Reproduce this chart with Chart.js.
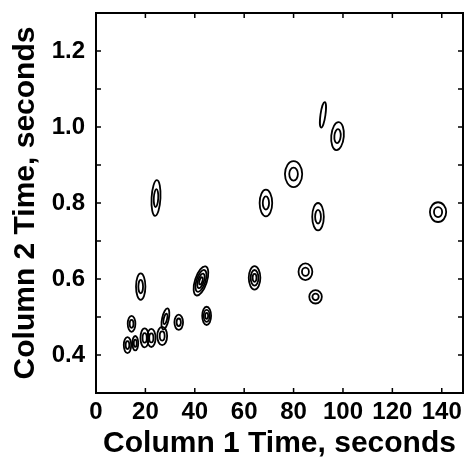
<!DOCTYPE html>
<html>
<head>
<meta charset="utf-8">
<script src="https://cdn.jsdelivr.net/npm/chart.js@4.4.1/dist/chart.umd.min.js"></script>
<style>
  body { margin: 0; background: #fff; }
</style>
</head>
<body>
<canvas id="contour" width="470" height="460"></canvas>
<script>
// peak centres, half widths (in axis units) and number of contour levels
var peakX     = [24.3, 91.9, 97.8, 80.0, 68.8, 89.9, 138.5, 64.2, 84.8, 88.9, 18.1, 42.5, 44.8, 14.4, 12.75, 15.9, 19.7, 22.4, 26.8, 28.1, 33.5];
var peakY     = [0.813, 1.032, 0.976, 0.876, 0.800, 0.764, 0.776, 0.603, 0.619, 0.553, 0.580, 0.595, 0.503, 0.482, 0.426, 0.431, 0.445, 0.445, 0.450, 0.495, 0.486];
var peakHalfW = [1.8, 1.0, 2.55, 3.5, 2.55, 2.35, 3.3, 2.35, 2.8, 2.55, 1.9, 2.4, 1.8, 1.55, 1.5, 1.2, 1.7, 1.7, 2.0, 1.35, 1.75];
var peakHalfH = [0.047, 0.034, 0.037, 0.034, 0.035, 0.036, 0.026, 0.031, 0.022, 0.0175, 0.035, 0.040, 0.024, 0.021, 0.021, 0.019, 0.025, 0.024, 0.024, 0.028, 0.020];
var peakLevels = [2, 1, 2, 2, 2, 2, 2, 3, 2, 2, 2, 4, 3, 2, 2, 2, 2, 2, 2, 2, 2];
var peakTilt  = [3, 8, 5, 0, 0, 0, 0, 0, 0, 0, 0, 18, 0, 0, 0, 0, 0, 0, 0, 12, 0];

var xTitle = "Column 1 Time, seconds";
var yTitle = "Column 2 Time, seconds";

var points = [];
for (var i = 0; i < peakX.length; i++) {
    points.push({ x: peakX[i], y: peakY[i] });
}

var tickFont = { family: "'Liberation Sans', Arial, sans-serif", size: 24, weight: 'bold' };
var titleFont = { family: "'Liberation Sans', Arial, sans-serif", size: 30, weight: 'bold', lineHeight: 1 };

// box, inward ticks and contour rings
var contourPlugin = {
    id: 'contours',
    afterDatasetsDraw: function (chart) {
        var ctx = chart.ctx;
        var xs = chart.scales.x;
        var ys = chart.scales.y;
        var area = chart.chartArea;

        ctx.save();
        ctx.beginPath();
        ctx.rect(area.left, area.top, area.right - area.left, area.bottom - area.top);
        ctx.clip();
        ctx.strokeStyle = '#000';
        ctx.lineWidth = 1.8;
        for (var i = 0; i < peakX.length; i++) {
            var px = xs.getPixelForValue(peakX[i]);
            var py = ys.getPixelForValue(peakY[i]);
            var rx = Math.abs(xs.getPixelForValue(peakX[i] + peakHalfW[i]) - px);
            var ry = Math.abs(ys.getPixelForValue(peakY[i] + peakHalfH[i]) - py);
            var n = peakLevels[i];
            for (var k = 0; k < n; k++) {
                var s = (n - k) / n;
                ctx.beginPath();
                ctx.ellipse(px, py, Math.max(rx * s, 0.8), Math.max(ry * s, 0.8), peakTilt[i] * Math.PI / 180, 0, 2 * Math.PI);
                ctx.stroke();
            }
        }
        ctx.restore();

        ctx.save();
        ctx.strokeStyle = '#000';
        ctx.lineWidth = 2;
        ctx.strokeRect(area.left, area.top, area.right - area.left, area.bottom - area.top);
        ctx.lineWidth = 1.5;
        var len = 5;
        xs.ticks.forEach(function (t) {
            var p = xs.getPixelForValue(t.value);
            if (p <= area.left + 1 || p >= area.right - 1) return;
            ctx.beginPath();
            ctx.moveTo(p, area.bottom); ctx.lineTo(p, area.bottom - len);
            ctx.moveTo(p, area.top); ctx.lineTo(p, area.top + len);
            ctx.stroke();
        });
        ys.ticks.forEach(function (t) {
            var p = ys.getPixelForValue(t.value);
            if (p <= area.top + 1 || p >= area.bottom - 1) return;
            ctx.beginPath();
            ctx.moveTo(area.left, p); ctx.lineTo(area.left + len, p);
            ctx.moveTo(area.right, p); ctx.lineTo(area.right - len, p);
            ctx.stroke();
        });
        ctx.restore();
    }
};

var config = {
    type: 'scatter',
    data: {
        datasets: [{
            data: points,
            pointRadius: 0,
            pointHoverRadius: 0,
            showLine: false
        }]
    },
    options: {
        responsive: false,
        animation: false,
        layout: { padding: { top: 13, right: 7, left: 0, bottom: 0 } },
        plugins: { legend: { display: false }, tooltip: { enabled: false } },
        scales: {
            x: {
                type: 'linear',
                min: 0,
                max: 148.6,
                grid: { display: false, drawTicks: false },
                border: { display: false },
                ticks: {
                    stepSize: 20,
                    includeBounds: false,
                    color: '#000',
                    font: tickFont,
                    padding: 5,
                    maxRotation: 0
                },
                title: { display: true, text: xTitle, color: '#000', font: titleFont, padding: { top: 0, bottom: 1 } },
                afterFit: function (scale) {
                    scale.height = 67;
                    scale.paddingLeft = 0;
                    scale.paddingRight = 0;
                }
            },
            y: {
                type: 'linear',
                min: 0.3,
                max: 1.3,
                grid: { display: false, drawTicks: false },
                border: { display: false },
                ticks: {
                    stepSize: 0.1,
                    includeBounds: false,
                    color: '#000',
                    font: tickFont,
                    padding: 11,
                    callback: function (v) {
                        var t = Math.round(v * 10);
                        return t % 2 === 0 ? (t / 10).toFixed(1) : '';
                    }
                },
                title: { display: true, text: yTitle, color: '#000', font: titleFont, padding: { top: 11, bottom: 0 } },
                afterFit: function (scale) {
                    scale.width = 96;
                    scale.paddingTop = 0;
                    scale.paddingBottom = 0;
                }
            }
        }
    },
    plugins: [contourPlugin]
};

var contourChart = new Chart(document.getElementById('contour'), config);
</script>
</body>
</html>
